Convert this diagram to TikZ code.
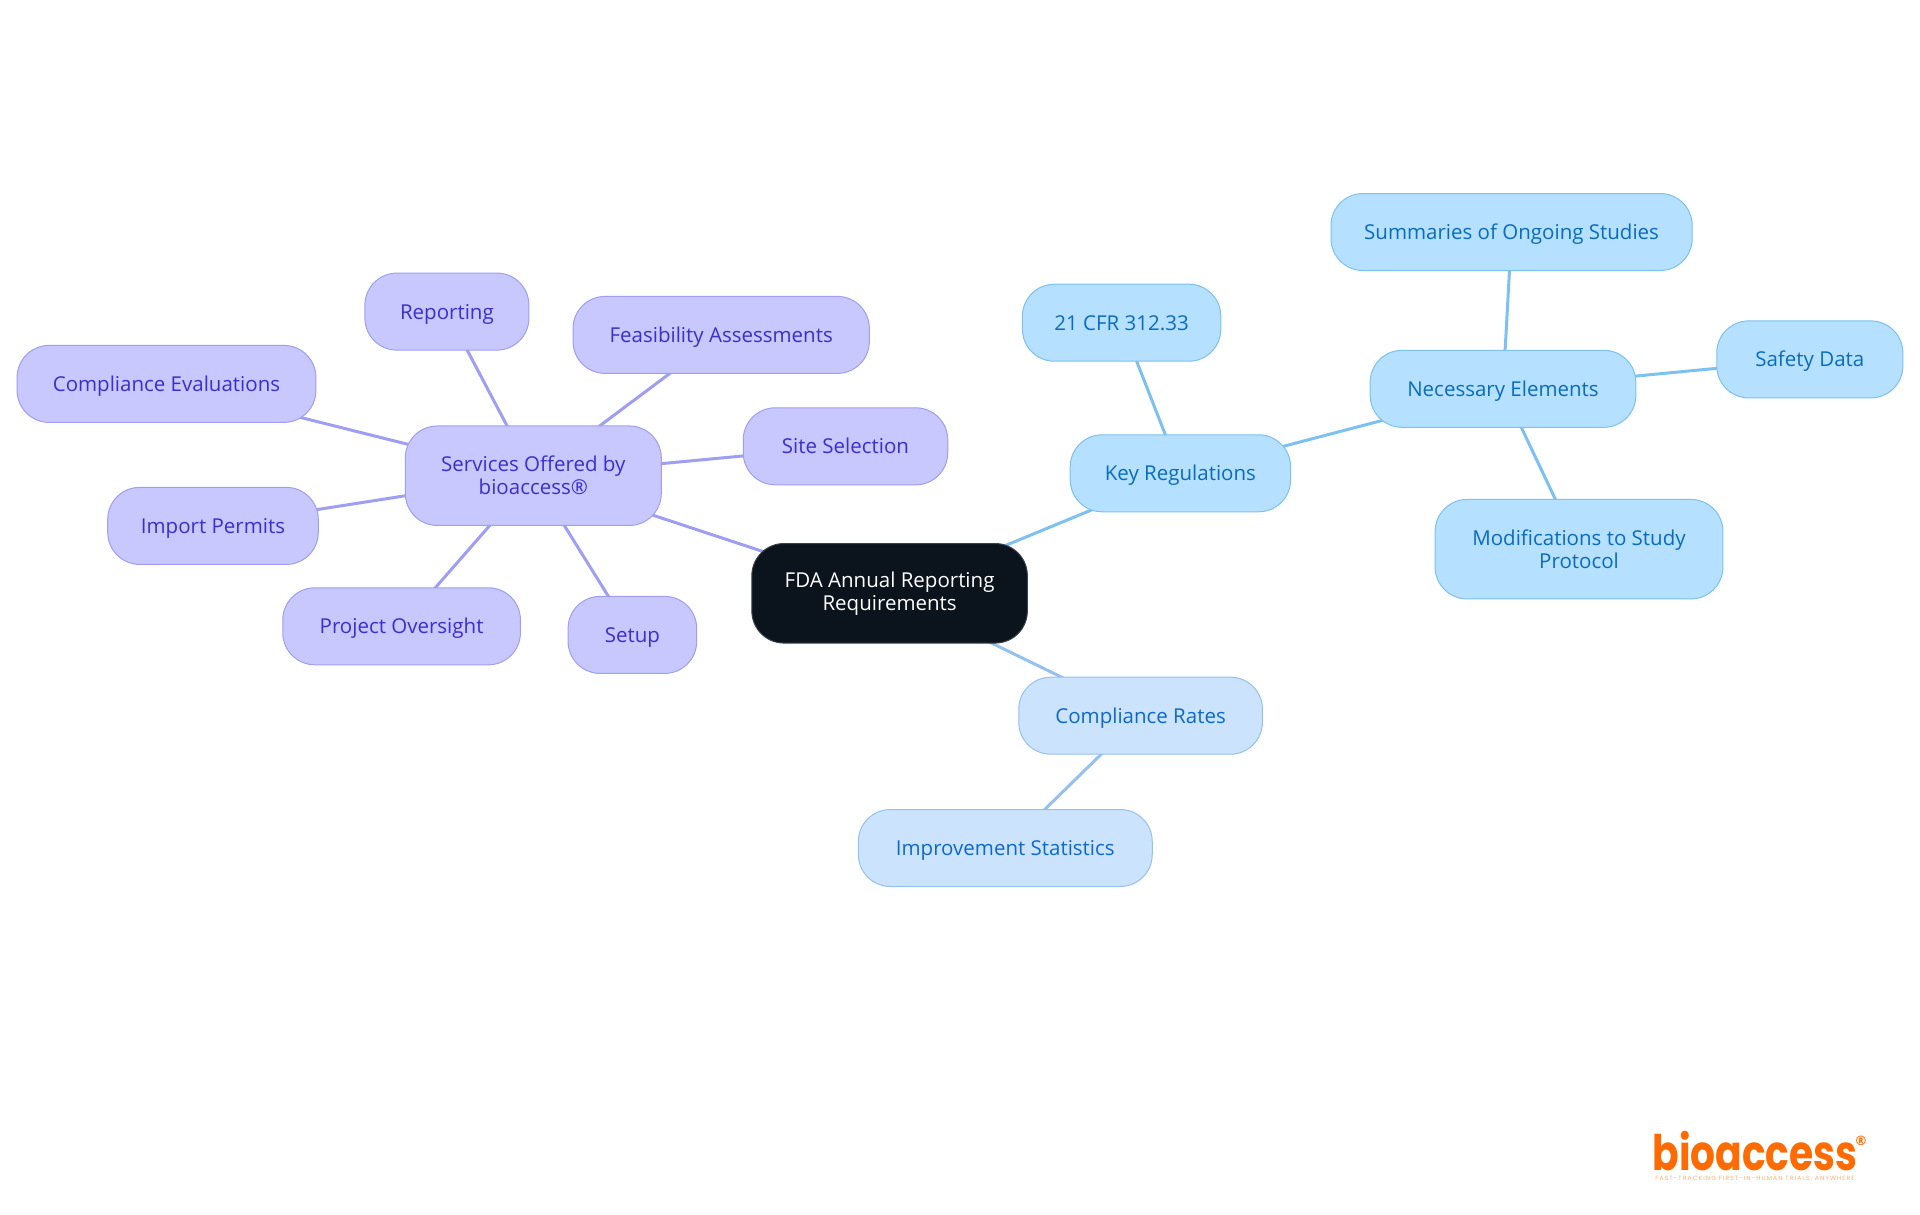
\documentclass[tikz,border=0pt]{standalone}
\usepackage{fontspec}
\setmainfont{Open Sans}
\newfontfamily\logofont[FakeStretch=0.8]{Poppins}
\newfontfamily\tagfont[LetterSpace=18]{Poppins}
\usetikzlibrary{backgrounds}
\definecolor{rootfill}{HTML}{0B131C}
\definecolor{purplefill}{HTML}{C8C8FE}
\definecolor{purpleline}{HTML}{9E9EF4}
\definecolor{purpletext}{HTML}{3B2FCE}
\definecolor{bluefill}{HTML}{B5E0FF}
\definecolor{blueline}{HTML}{7CC1F2}
\definecolor{bluetext}{HTML}{0A6CBE}
\definecolor{palefill}{HTML}{CCE3FD}
\definecolor{paleline}{HTML}{96C1EF}
\definecolor{paletext}{HTML}{0F69C9}
\definecolor{logoorange}{HTML}{FF6B00}
\tikzset{
	mapnode/.style={rounded corners=32pt, line width=1pt, inner sep=0pt, minimum height=77pt, align=center, text height=18pt, text depth=3pt, font=\fontsize{20.5}{23}\selectfont},
	tallnode/.style={minimum height=99.5pt, text height=, text depth=},
	rootnode/.style={mapnode, tallnode, fill=rootfill, draw=rootfill!80, text=white},
	purplenode/.style={mapnode, fill=purplefill, draw=purpleline, text=purpletext},
	bluenode/.style={mapnode, fill=bluefill, draw=blueline, text=bluetext},
	palenode/.style={mapnode, fill=palefill, draw=paleline, text=paletext},
	purpleedge/.style={draw=purpleline, line width=3pt},
	blueedge/.style={draw=blueline, line width=3pt},
	paleedge/.style={draw=paleline, line width=3pt}
}
\begin{document}
\begin{tikzpicture}[x=1pt, y=-1pt]
		\useasboundingbox (0, 0) rectangle (1920, 1215);
		\node[rootnode, minimum width=275.5pt] (root) at (889.6, 593.3) {FDA Annual Reporting\\Requirements};
		\node[purplenode, tallnode, minimum width=256pt] (services) at (533.3, 475.7) {Services Offered by\\bioaccess®};
		\node[purplenode, minimum width=298.8pt] (evaluations) at (166.5, 383.9) {Compliance Evaluations};
		\node[purplenode, minimum width=164pt] (reporting) at (446.9, 311.6) {Reporting};
		\node[purplenode, minimum width=296.3pt] (feasibility) at (721.2, 334.9) {Feasibility Assessments};
		\node[purplenode, minimum width=204.5pt] (site) at (845.5, 446.3) {Site Selection};
		\node[purplenode, minimum width=210.6pt] (permits) at (213, 525.9) {Import Permits};
		\node[purplenode, minimum width=237.6pt] (oversight) at (401.6, 626.3) {Project Oversight};
		\node[purplenode, minimum width=128.6pt] (setup) at (632.4, 634.9) {Setup};
		\node[bluenode, minimum width=220.4pt] (regulations) at (1180.4, 473.3) {Key Regulations};
		\node[bluenode, minimum width=198.4pt] (cfr) at (1121.6, 322.7) {21 CFR 312.33};
		\node[bluenode, minimum width=265.7pt] (elements) at (1503, 388.8) {Necessary Elements};
		\node[bluenode, minimum width=361.2pt] (summaries) at (1511.6, 232) {Summaries of Ongoing Studies};
		\node[bluenode, minimum width=186.1pt] (safety) at (1809.8, 359.4) {Safety Data};
		\node[bluenode, tallnode, minimum width=287.8pt] (protocol) at (1579, 549.2) {Modifications to Study\\Protocol};
		\node[palenode, minimum width=243.7pt] (rates) at (1140.6, 715.7) {Compliance Rates};
		\node[palenode, minimum width=293.9pt] (statistics) at (1005.3, 848) {Improvement Statistics};
		% logo
		\node[text=logoorange, inner sep=0pt, font=\logofont\bfseries\fontsize{49}{49}\selectfont] (logotext) at (1755, 1151) {bioaccess};
		\node[text=logoorange, inner sep=0pt, font=\bfseries\fontsize{13}{13}\selectfont] (logomark) at (1861, 1141) {®};
		\node[text=logoorange!55, inner sep=0pt, font=\tagfont\fontsize{6.1}{7}\selectfont] (logotag) at (1755, 1179) {FAST-TRACKING FIRST-IN-HUMAN TRIALS, ANYWHERE};
		\begin{scope}[on background layer]
		\draw[purpleedge] (root.center) -- (services.center);
		\draw[purpleedge] (services.center) -- (evaluations.center);
		\draw[purpleedge] (services.center) -- (reporting.center);
		\draw[purpleedge] (services.center) -- (feasibility.center);
		\draw[purpleedge] (services.center) -- (site.center);
		\draw[purpleedge] (services.center) -- (permits.center);
		\draw[purpleedge] (services.center) -- (oversight.center);
		\draw[purpleedge] (services.center) -- (setup.center);
		\draw[blueedge] (root.center) -- (regulations.center);
		\draw[blueedge] (regulations.center) -- (cfr.center);
		\draw[blueedge] (regulations.center) -- (elements.center);
		\draw[blueedge] (elements.center) -- (summaries.center);
		\draw[blueedge] (elements.center) -- (safety.center);
		\draw[blueedge] (elements.center) -- (protocol.center);
		\draw[paleedge] (root.center) -- (rates.center);
		\draw[paleedge] (rates.center) -- (statistics.center);
		\end{scope}
		\end{tikzpicture}
\end{document}
